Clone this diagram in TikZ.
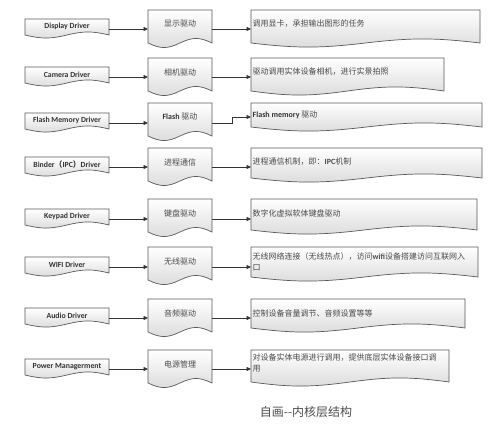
\documentclass[tikz,border=0pt]{standalone}
\usepackage{fontspec}
\setmainfont{Carlito}
\newfontfamily\cjk{Noto Sans CJK SC}
\usetikzlibrary{arrows.meta,calc}
\definecolor{bord}{HTML}{5A5A5A}
\definecolor{txt}{HTML}{333333}
\definecolor{cjktxt}{HTML}{4A4A4A}
\newcommand\docbox[6]{%
 \pgfmathsetmacro\dw{#4-#2}%
 \pgfmathsetmacro\dh{#5-#3}%
 \path[docfill] (#2,#3) -- (#4,#3) -- (#4,#5)
   .. controls ({#4-0.2*\dw},{#5-1.35*#6}) and ({#4-0.3*\dw},{#5-1.35*#6}) .. ({#2+0.5*\dw},#5)
   .. controls ({#2+0.3*\dw},{#5+1.35*#6}) and ({#2+0.2*\dw},{#5+1.35*#6}) .. (#2,#5) -- cycle;
 \node[anchorbox, minimum width=\dw pt, minimum height=\dh pt] (#1) at ({(#2+#4)/2},{(#3+#5)/2}) {};
}
\begin{document}
\begin{tikzpicture}[x=1pt,y=-1pt,
 docfill/.style={draw=bord, line width=0.7pt, top color=white, bottom color=black!14},
 anchorbox/.style={inner sep=0pt, outer sep=0pt},
 arr/.style={draw=txt, line width=0.7pt, -{Triangle[length=4.5pt,width=4pt]}},
 lefttxt/.style={font=\fontsize{7.8}{8}\selectfont\bfseries, text=txt, inner sep=0pt},
 midtxt/.style={font=\cjk\fontsize{8}{9}\selectfont, text=cjktxt, inner sep=0pt},
 righttxt/.style={font=\cjk\fontsize{8}{11}\selectfont, text=cjktxt, anchor=west, inner sep=0pt, align=left},
]
\useasboundingbox[fill=white] (0,0) rectangle (500,425);

% row coordinates for the connectors
\coordinate (a1) at (0,29);
\coordinate (a2) at (0,77);
\coordinate (a3) at (0,123);
\coordinate (a4) at (0,167);
\coordinate (a5) at (0,219);
\coordinate (a6) at (0,267);
\coordinate (a7) at (0,318);
\coordinate (a8) at (0,369);

% left boxes
\docbox{l1}{25}{19}{109}{35}{3}
\docbox{l2}{25}{67}{109}{83}{3}
\docbox{l3}{25}{113}{109}{129}{3}
\docbox{l4}{25}{157}{109}{173}{3}
\docbox{l5}{25}{209}{109}{225}{3}
\docbox{l6}{25}{257}{109}{273}{3}
\docbox{l7}{25}{308}{109}{324}{3}
\docbox{l8}{25}{359}{109}{375}{3}

\node[lefttxt] (lt1) at ([yshift=0.5pt]l1.center) {Display Driver};
\node[lefttxt] (lt2) at ([yshift=0.5pt]l2.center) {Camera Driver};
\node[lefttxt] (lt3) at ([yshift=0.5pt]l3.center) {Flash Memory Driver};
\node[lefttxt] (lt4) at ([yshift=0.5pt]l4.center) {Binder{\cjk （}IPC{\cjk ）}Driver};
\node[lefttxt] (lt5) at ([yshift=0.5pt]l5.center) {Keypad Driver};
\node[lefttxt] (lt6) at ([yshift=0.5pt]l6.center) {WIFI Driver};
\node[lefttxt] (lt7) at ([yshift=0.5pt]l7.center) {Audio Driver};
\node[lefttxt] (lt8) at ([yshift=0.5pt]l8.center) {Power Managerment};

% middle boxes
\docbox{m1}{148}{10}{212}{43}{4.5}
\docbox{m2}{148}{58}{212}{91}{4.5}
\docbox{m3}{148}{103}{212}{136}{4.5}
\docbox{m4}{148}{148}{212}{181}{4.5}
\docbox{m5}{148}{199}{212}{232}{4.5}
\docbox{m6}{148}{247}{212}{280}{4.5}
\docbox{m7}{148}{299}{212}{332}{4.5}
\docbox{m8}{148}{350}{212}{383}{4.5}

\node[midtxt] (mt1) at ([yshift=2.5pt]m1.center) {显示驱动};
\node[midtxt] (mt2) at ([yshift=2.5pt]m2.center) {相机驱动};
\node[midtxt] (mt3) at ([yshift=2.5pt]m3.center) {{\rmfamily\bfseries\color{txt}Flash} 驱动};
\node[midtxt] (mt4) at ([yshift=2.5pt]m4.center) {进程通信};
\node[midtxt] (mt5) at ([yshift=2.5pt]m5.center) {键盘驱动};
\node[midtxt] (mt6) at ([yshift=2.5pt]m6.center) {无线驱动};
\node[midtxt] (mt7) at ([yshift=2.5pt]m7.center) {音频驱动};
\node[midtxt] (mt8) at ([yshift=2.5pt]m8.center) {电源管理};

% right boxes
\docbox{r1}{251}{10}{480}{43}{4}
\docbox{r2}{251}{58}{444}{91}{4}
\docbox{r3}{251}{103}{482}{127}{4}
\docbox{r4}{251}{148}{482}{178}{4}
\docbox{r5}{251}{199}{477}{230}{4}
\docbox{r6}{251}{247}{478}{277}{4}
\docbox{r7}{251}{299}{465}{328}{4}
\docbox{r8}{251}{350}{449}{382}{4}

\node[righttxt] (rt1) at (252.5,24) {调用显卡，承担输出图形的任务};
\node[righttxt] (rt2) at (252.5,72) {驱动调用实体设备相机，进行实景拍照};
\node[righttxt] (rt3) at (252.5,115) {{\rmfamily\bfseries\color{txt}Flash memory} 驱动};
\node[righttxt] (rt4) at (252.5,162) {进程通信机制，即：{\rmfamily\bfseries IPC}机制};
\node[righttxt] (rt5) at (252.5,213) {数字化虚拟软体键盘驱动};
\node[righttxt] (rt6) at (252.5,261.5) {无线网络连接（无线热点），访问{\rmfamily\bfseries wifi}设备搭建访问互联网入\\口};
\node[righttxt] (rt7) at (252.5,313) {控制设备音量调节、音频设置等等};
\node[righttxt] (rt8) at (252.5,363) {对设备实体电源进行调用，提供底层实体设备接口调\\用};

% connectors
\foreach \i in {1,2,4,5,6,7,8}{
  \draw[arr] (l\i.east |- a\i) -- (m\i.west |- a\i);
  \draw[arr] (m\i.east |- a\i) -- (r\i.west |- a\i);
}
\draw[arr] (l3.east |- a3) -- (m3.west |- a3);
\draw[arr] (m3.east |- a3) -- ++(20,0) |- ([yshift=-2pt]r3.west);

% caption
\node[font=\cjk\fontsize{12}{13}\selectfont, text=black!70] (cap) at (306,412) {自画--内核层结构};
\end{tikzpicture}
\end{document}
